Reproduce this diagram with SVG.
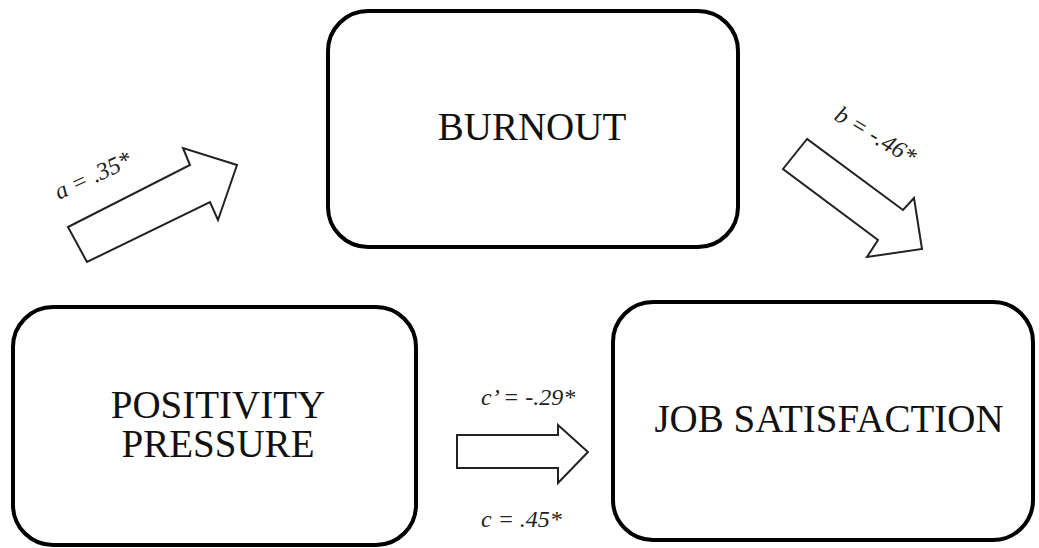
<svg xmlns="http://www.w3.org/2000/svg" width="1039" height="548" viewBox="0 0 1039 548">
<style>
.box{fill:#fff;stroke:#000;stroke-width:4}
.arr{fill:#fff;stroke:#222;stroke-width:2;stroke-linejoin:miter}
.node{font-family:"Liberation Serif",serif;font-size:39px;fill:#111;text-anchor:middle}
.lbl{font-family:"Liberation Serif",serif;font-style:italic;font-size:24px;fill:#222}
</style>
<rect width="1039" height="548" fill="#fff"/>
<g id="burnout">
<rect class="box" x="328" y="11" width="410" height="236" rx="40"/>
<text class="node" x="532" y="140">BURNOUT</text>
</g>
<g id="positivity-pressure">
<rect class="box" x="13" y="307" width="403" height="238" rx="40"/>
<text class="node" x="218" y="418">POSITIVITY</text>
<text class="node" x="218" y="457">PRESSURE</text>
</g>
<g id="job-satisfaction">
<rect class="box" x="613" y="302" width="420" height="238" rx="40"/>
<text class="node" x="829" y="432">JOB SATISFACTION</text>
</g>
<g id="connectors">
<polygon class="arr" points="68,227 87,262 210,202 218,220 237,165 183,148 190,165"/>
<polygon class="arr" points="807,139 783,169 878,240 867,257 922,249 914,198 903,210"/>
<polygon class="arr" points="457,435 457,468 558,468 558,483 588,452 558,425 558,435"/>
<text class="lbl" transform="translate(59,200) rotate(-25)">a = .35*</text>
<text class="lbl" transform="translate(833,119) rotate(31)">b = -.46*</text>
<text class="lbl" x="481" y="405">c’ = -.29*</text>
<text class="lbl" x="481" y="527">c = .45*</text>
</g>
</svg>
